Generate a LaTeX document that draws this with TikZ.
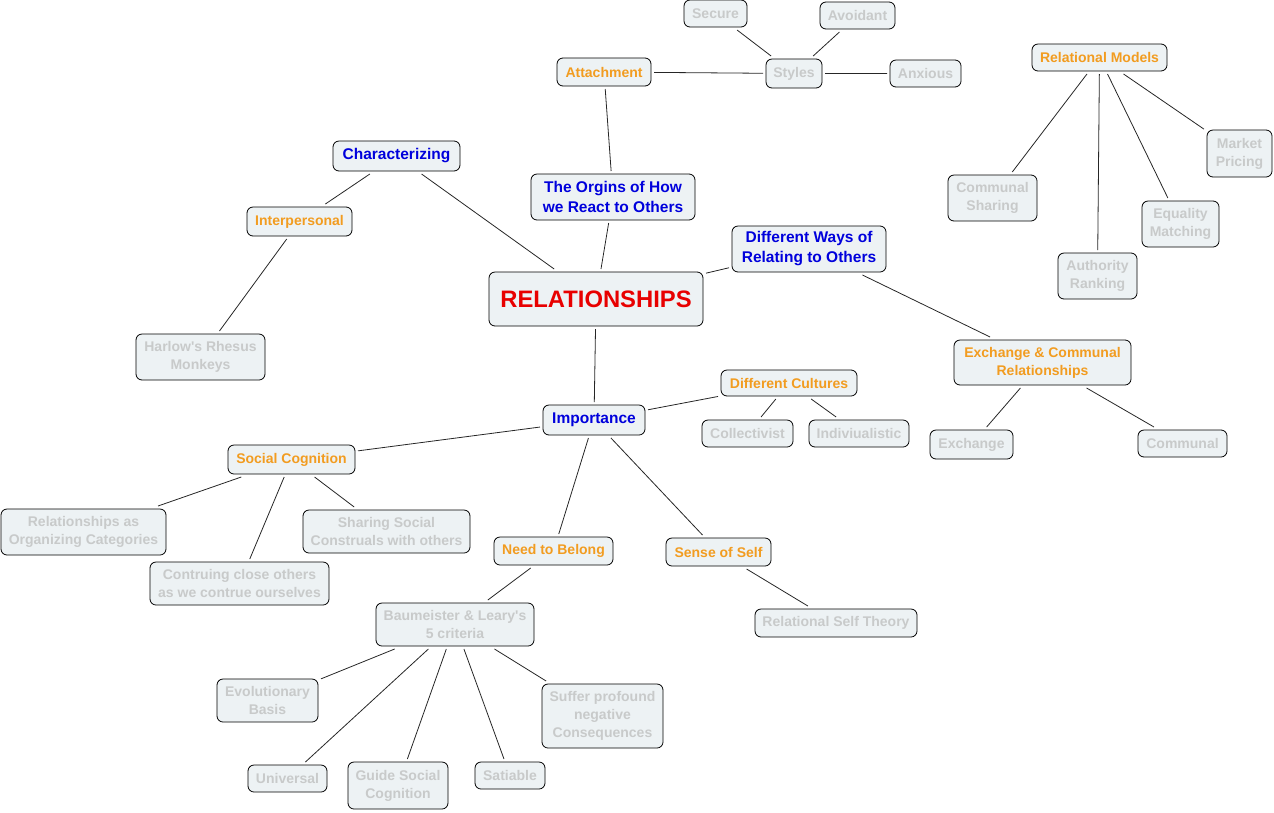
\documentclass[tikz,border=0pt]{standalone}
\usepackage{fontspec}
\setmainfont{Liberation Sans}
\definecolor{boxfill}{RGB}{237,242,244}
\definecolor{leaftext}{RGB}{200,202,202}
\definecolor{subtext}{RGB}{242,156,32}
\definecolor{maintext}{RGB}{0,0,220}
\definecolor{roottext}{RGB}{232,0,0}
\begin{document}
\begin{tikzpicture}[x=1pt,y=-1pt,
  box/.style={draw=black, line width=0.8pt, fill=boxfill, rounded corners=6pt,
    inner sep=0pt, outer sep=3pt, align=center, font=\bfseries\fontsize{14}{18}\selectfont},
  leaf/.style={box, text=leaftext},
  sub/.style={box, text=subtext},
  main/.style={box, text=maintext, font=\bfseries\fontsize{15.5}{20}\selectfont},
  root/.style={box, text=roottext, font=\bfseries\fontsize{23.8}{28}\selectfont},
  link/.style={draw=black!85, line width=0.8pt}]
\useasboundingbox (0,0) rectangle (1274,812);

\node[root, minimum width=214pt, minimum height=54pt] (rel) at (596,299) {RELATIONSHIPS};

\node[main, minimum width=127pt, minimum height=30pt] (char) at (396.5,156) {Characterizing};
\node[main, minimum width=164pt, minimum height=46pt] (orig) at (613,197) {The Orgins of How\\we React to Others};
\node[main, minimum width=154pt, minimum height=46pt] (diff) at (809,249) {Different Ways of\\Relating to Others};
\node[main, minimum width=102pt, minimum height=30pt] (imp) at (594,420) {Importance};

\node[sub, minimum width=94pt, minimum height=28pt] (att) at (604,72) {Attachment};
\node[sub, minimum width=105pt, minimum height=29pt] (inter) at (299.5,221.5) {Interpersonal};
\node[sub, minimum width=135pt, minimum height=27pt] (relm) at (1099.5,57.5) {Relational Models};
\node[sub, minimum width=177pt, minimum height=45pt] (exc) at (1042.5,362.5) {Exchange \& Communal\\Relationships};
\node[sub, minimum width=136pt, minimum height=26pt] (dc) at (789,383) {Different Cultures};
\node[sub, minimum width=127pt, minimum height=29pt] (sc) at (291.5,459.5) {Social Cognition};
\node[sub, minimum width=119pt, minimum height=28pt] (need) at (553.5,551) {Need to Belong};
\node[sub, minimum width=105pt, minimum height=28pt] (self) at (718.5,552) {Sense of Self};

\node[leaf, minimum width=63pt, minimum height=27pt] (secure) at (715.5,13.5) {Secure};
\node[leaf, minimum width=75pt, minimum height=27pt] (avoid) at (857.5,15.5) {Avoidant};
\node[leaf, minimum width=56pt, minimum height=29pt] (styles) at (794,73.5) {Styles};
\node[leaf, minimum width=71pt, minimum height=27pt] (anx) at (925.5,73.5) {Anxious};
\node[leaf, minimum width=65pt, minimum height=47pt] (market) at (1239.5,153.5) {Market\\Pricing};
\node[leaf, minimum width=89pt, minimum height=46pt] (comsh) at (992.5,198) {Communal\\Sharing};
\node[leaf, minimum width=77pt, minimum height=46pt] (equal) at (1180.5,224) {Equality\\Matching};
\node[leaf, minimum width=79pt, minimum height=46pt] (auth) at (1097.5,276) {Authority\\Ranking};
\node[leaf, minimum width=129pt, minimum height=46pt] (harlow) at (200.5,357) {Harlow\textquotesingle s Rhesus\\Monkeys};
\node[leaf, minimum width=83pt, minimum height=29pt] (exch) at (971.5,444.5) {Exchange};
\node[leaf, minimum width=89pt, minimum height=27pt] (comm) at (1182.5,443.5) {Communal};
\node[leaf, minimum width=91pt, minimum height=27pt] (coll) at (747.5,433.5) {Collectivist};
\node[leaf, minimum width=100pt, minimum height=27pt] (indiv) at (859,433.5) {Indiviualistic};
\node[leaf, minimum width=165pt, minimum height=46pt] (relcat) at (83.5,532) {Relationships as\\Organizing Categories};
\node[leaf, minimum width=167pt, minimum height=43pt] (share) at (386.5,531.5) {Sharing Social\\Construals with others};
\node[leaf, minimum width=179pt, minimum height=43pt] (contr) at (239.5,583.5) {Contruing close others\\as we contrue ourselves};
\node[leaf, minimum width=158pt, minimum height=43pt] (baum) at (455,624.5) {Baumeister \& Leary\textquotesingle s\\5 criteria};
\node[leaf, minimum width=162pt, minimum height=28pt] (rst) at (836,623) {Relational Self Theory};
\node[leaf, minimum width=101pt, minimum height=43pt] (evol) at (267.5,700.5) {Evolutionary\\Basis};
\node[leaf, minimum width=121pt, minimum height=64pt] (suffer) at (602.5,716) {Suffer profound\\negative\\Consequences};
\node[leaf, minimum width=79pt, minimum height=27pt] (univ) at (287.5,778.5) {Universal};
\node[leaf, minimum width=100pt, minimum height=47pt] (guide) at (398,785.5) {Guide Social\\Cognition};
\node[leaf, minimum width=70pt, minimum height=27pt] (sati) at (510,775.5) {Satiable};

\path[link]
  (att) -- (styles)
  (styles) -- (secure)
  (styles) -- (avoid)
  (styles) -- (anx)
  (att) -- (orig)
  (orig) -- (rel)
  (char) -- (rel)
  (char) -- (inter)
  (inter) -- (harlow)
  (rel) -- (diff)
  (diff) -- (exc)
  (exc) -- (exch)
  (exc) -- (comm)
  (relm) -- (comsh)
  (relm) -- (auth)
  (relm) -- (equal)
  (relm) -- (market)
  (rel) -- (imp)
  (imp) -- (dc)
  (dc) -- (coll)
  (dc) -- (indiv)
  (imp) -- (sc)
  (sc) -- (relcat)
  (sc) -- (contr)
  (sc) -- (share)
  (imp) -- (need)
  (imp) -- (self)
  (need) -- (baum)
  (self) -- (rst)
  (baum) -- (evol)
  (baum) -- (univ)
  (baum) -- (guide)
  (baum) -- (sati)
  (baum) -- (suffer);
\end{tikzpicture}
\end{document}
